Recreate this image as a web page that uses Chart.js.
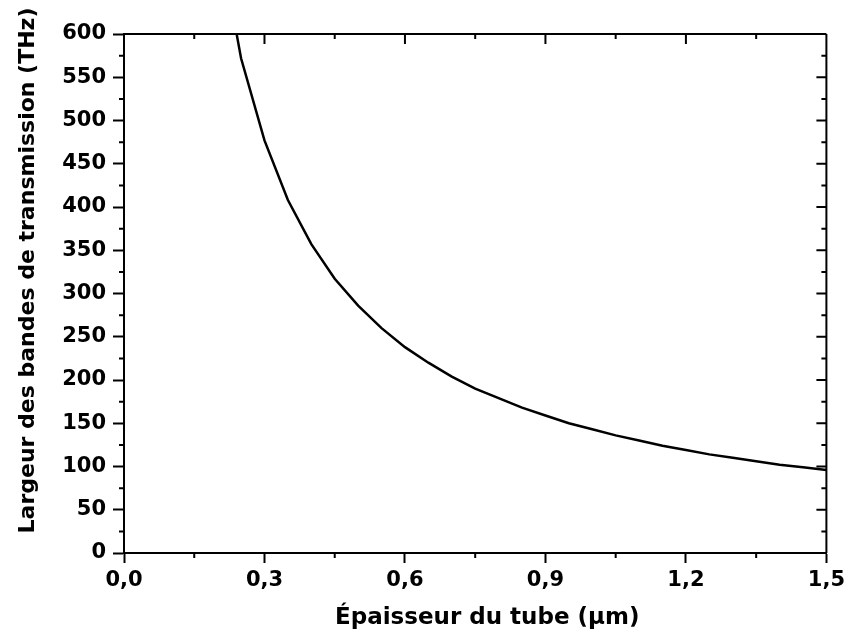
<!DOCTYPE html>
<html>
<head>
<meta charset="utf-8">
<script src="https://cdn.jsdelivr.net/npm/chart.js@4/dist/chart.umd.min.js"></script>
<style>
  html, body { margin: 0; padding: 0; background: #fff; }
  #box { width: 850px; height: 639px; position: relative; }
</style>
</head>
<body>
<div id="box"><canvas id="graphe"></canvas></div>
<script>
// Épaisseur du tube (µm) et largeur des bandes (THz)
const epaisseur = [0.20, 0.25, 0.30, 0.35, 0.40, 0.45, 0.50, 0.55, 0.60, 0.65, 0.70, 0.75, 0.80,
  0.85, 0.90, 0.95, 1.00, 1.05, 1.10, 1.15, 1.20, 1.25, 1.30, 1.35, 1.40, 1.45, 1.50];
const largeur = [720, 572, 477, 408, 357, 317, 286, 260, 238, 220, 204, 190, 179,
  168, 159, 150, 143, 136, 130, 124, 119, 114, 110, 106, 102, 99, 96];

const xTicks = [0, 0.3, 0.6, 0.9, 1.2, 1.5];
const yTicks = [0, 50, 100, 150, 200, 250, 300, 350, 400, 450, 500, 550, 600];

// petits traits : secondaires dehors, cadre haut/droite avec traits vers l'intérieur
const cadre = {
  id: "cadre",
  afterDraw(chart) {
    const ctx = chart.ctx, a = chart.chartArea;
    const sx = chart.scales.x, sy = chart.scales.y;
    ctx.save();
    ctx.strokeStyle = "#000";
    ctx.lineWidth = 2;
    ctx.beginPath();
    ctx.moveTo(a.left, a.top); ctx.lineTo(a.right, a.top);
    ctx.moveTo(a.right, a.top); ctx.lineTo(a.right, a.bottom);
    // x
    for (let i = 0; i < xTicks.length; i++) {
      const px = sx.getPixelForValue(xTicks[i]);
      ctx.moveTo(px, a.top); ctx.lineTo(px, a.top + 10);
      if (i < xTicks.length - 1) {
        const pm = sx.getPixelForValue((xTicks[i] + xTicks[i + 1]) / 2);
        ctx.moveTo(pm, a.bottom); ctx.lineTo(pm, a.bottom + 5);
        ctx.moveTo(pm, a.top); ctx.lineTo(pm, a.top + 5);
      }
    }
    // y
    for (let i = 0; i < yTicks.length; i++) {
      const py = sy.getPixelForValue(yTicks[i]);
      ctx.moveTo(a.right, py); ctx.lineTo(a.right - 10, py);
      if (i < yTicks.length - 1) {
        const pm = sy.getPixelForValue((yTicks[i] + yTicks[i + 1]) / 2);
        ctx.moveTo(a.left, pm); ctx.lineTo(a.left - 5, pm);
        ctx.moveTo(a.right, pm); ctx.lineTo(a.right - 5, pm);
      }
    }
    ctx.stroke();
    ctx.restore();
  }
};

const ctx = document.getElementById("graphe").getContext("2d");
new Chart(ctx, {
  type: "line",
  data: {
    datasets: [{
      data: epaisseur.map((v, i) => ({ x: v, y: largeur[i] })),
      borderColor: "#000",
      borderWidth: 2.5,
      pointRadius: 0,
      tension: 0,
      fill: false
    }]
  },
  options: {
    responsive: true,
    maintainAspectRatio: false,
    animation: false,
    layout: { padding: { left: 0, right: 21, top: 34, bottom: 0 } },
    plugins: { legend: { display: false }, tooltip: { enabled: false } },
    scales: {
      x: {
        type: "linear",
        min: 0,
        max: 1.5,
        afterBuildTicks: (s) => { s.ticks = xTicks.map((v) => ({ value: v })); },
        afterFit: (s) => { s.height = 86; },
        border: { display: true, color: "#000", width: 2 },
        grid: { display: true, drawOnChartArea: false, drawTicks: true, tickLength: 10, tickWidth: 2, tickColor: "#000" },
        ticks: {
          color: "#000",
          padding: 5,
          maxRotation: 0,
          font: { family: "DejaVu Sans", size: 21, weight: "bold" },
          callback: (v) => Number(v).toFixed(1).replace(".", ",")
        },
        title: {
          display: true,
          // espaces en tête : le titre d'origine est un peu décalé à droite
          text: "   Épaisseur du tube (µm)",
          color: "#000",
          padding: { top: 0, bottom: 7 },
          font: { family: "DejaVu Sans", size: 23, weight: "bold" }
        }
      },
      y: {
        min: 0,
        max: 600,
        afterBuildTicks: (s) => { s.ticks = yTicks.map((v) => ({ value: v })); },
        afterFit: (s) => { s.width = 124; },
        border: { display: true, color: "#000", width: 2 },
        grid: { display: true, drawOnChartArea: false, drawTicks: true, tickLength: 11, tickWidth: 2, tickColor: "#000" },
        ticks: {
          color: "#000",
          padding: 7,
          font: { family: "DejaVu Sans", size: 21, weight: "bold" }
        },
        title: {
          display: true,
          // idem : décalé vers le haut dans l'original
          text: "      Largeur des bandes de transmission (THz)",
          color: "#000",
          padding: { top: 15, bottom: 0 },
          font: { family: "DejaVu Sans", size: 22, weight: "bold" }
        }
      }
    }
  },
  plugins: [cadre]
});
</script>
</body>
</html>
